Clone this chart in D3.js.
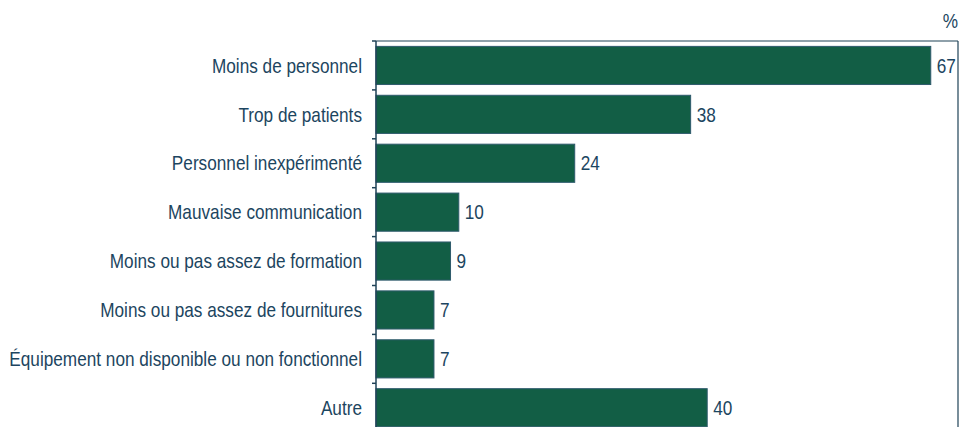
<!DOCTYPE html>
<html>
<head>
<meta charset="utf-8">
<script src="https://cdn.jsdelivr.net/npm/d3@7"></script>
<style>
  html, body { margin: 0; padding: 0; background: #fff; }
  svg { display: block; }
  text { font-family: "Liberation Sans", Arial, sans-serif; }
</style>
</head>
<body>
<svg id="chart" width="962" height="427"></svg>
<script>
const categories = [
  "Moins de personnel",
  "Trop de patients",
  "Personnel inexpérimenté",
  "Mauvaise communication",
  "Moins ou pas assez de formation",
  "Moins ou pas assez de fournitures",
  "Équipement non disponible ou non fonctionnel",
  "Autre"
];
const values = [67, 38, 24, 10, 9, 7, 7, 40];
const unitLabel = "%";

const W = 962, H = 427;
const axisX = 376, rightX = 958, topY = 41, step = 48.9;
const textColor = "#1c4560";
const lineColor = "#1f4257";
const fontSize = 20, squeeze = 0.86;

const svg = d3.select("#chart");

const x = d3.scaleLinear().domain([0, 70]).range([axisX, axisX + 70 * 8.28]);
const y = d3.scaleBand()
  .domain(categories)
  .range([topY, topY + step * categories.length])
  .paddingInner(0.22)
  .paddingOuter(0.11);

// bars
svg.append("g").selectAll("rect")
  .data(values)
  .join("rect")
  .attr("x", x(0))
  .attr("y", (d, i) => y(categories[i]))
  .attr("width", d => x(d) - x(0))
  .attr("height", y.bandwidth())
  .attr("fill", "#125e45")
  .attr("stroke", "#2e5a6c")
  .attr("stroke-width", 1);

// value labels (condensed text)
svg.append("g").selectAll("g")
  .data(values)
  .join("g")
  .attr("transform", (d, i) => `translate(${x(d) + 6},${y(categories[i]) + y.bandwidth() / 2}) scale(${squeeze},1)`)
  .append("text")
  .attr("dy", "0.36em")
  .attr("font-size", fontSize)
  .attr("fill", textColor)
  .text(d => d);

// left axis with ticks at band boundaries
const yAxis = svg.append("g");
yAxis.append("line")
  .attr("x1", axisX).attr("x2", axisX)
  .attr("y1", topY).attr("y2", H + 10)
  .attr("stroke", lineColor).attr("stroke-width", 1.5);
yAxis.selectAll("line.tick")
  .data(d3.range(categories.length + 1))
  .join("line")
  .attr("class", "tick")
  .attr("x1", axisX - 4).attr("x2", axisX)
  .attr("y1", i => topY + i * step).attr("y2", i => topY + i * step)
  .attr("stroke", lineColor).attr("stroke-width", 1.5);

// category labels (condensed text)
svg.append("g").selectAll("g")
  .data(categories)
  .join("g")
  .attr("transform", d => `translate(362,${y(d) + y.bandwidth() / 2}) scale(${squeeze},1)`)
  .append("text")
  .attr("dy", "0.36em")
  .attr("text-anchor", "end")
  .attr("font-size", fontSize)
  .attr("fill", textColor)
  .text(d => d);

// frame: top and right lines
svg.append("line")
  .attr("x1", axisX).attr("x2", rightX)
  .attr("y1", topY).attr("y2", topY)
  .attr("stroke", lineColor).attr("stroke-width", 1.2);
svg.append("line")
  .attr("x1", rightX).attr("x2", rightX)
  .attr("y1", topY).attr("y2", H + 10)
  .attr("stroke", lineColor).attr("stroke-width", 1.2);

// unit label
svg.append("g")
  .attr("transform", `translate(${rightX},28) scale(${squeeze},1)`)
  .append("text")
  .attr("text-anchor", "end")
  .attr("font-size", fontSize)
  .attr("fill", textColor)
  .text(unitLabel);
</script>
</body>
</html>
